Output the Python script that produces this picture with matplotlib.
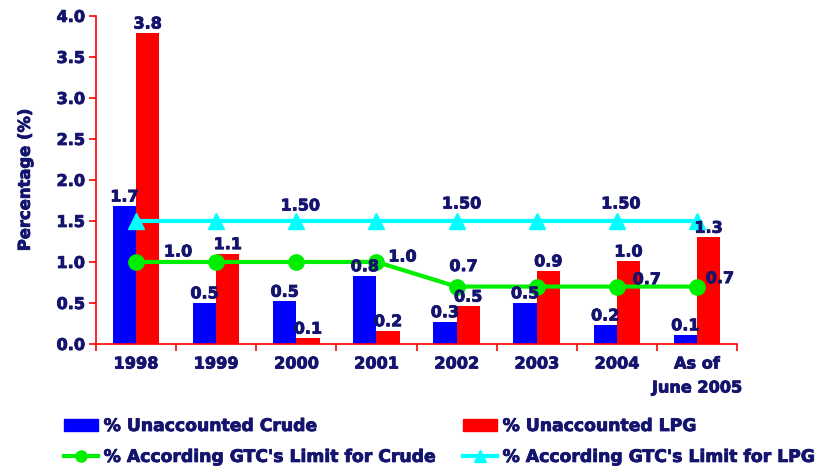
import matplotlib.pyplot as plt
import matplotlib.patheffects as pe
import numpy as np
from matplotlib.lines import Line2D
from matplotlib.patches import Patch

years = ['1998', '1999', '2000', '2001', '2002', '2003', '2004', 'As of\nJune 2005']
crude = [1.68, 0.50, 0.52, 0.83, 0.27, 0.50, 0.23, 0.11]
lpg = [3.79, 1.10, 0.07, 0.16, 0.46, 0.89, 1.01, 1.30]
limit_crude = [1.0, 1.0, 1.0, 1.0, 0.7, 0.7, 0.7, 0.7]
limit_lpg = [1.5, 1.5, 1.5, 1.5, 1.5, 1.5, 1.5, 1.5]

# which limit points get a label, and where (pixel offsets from the point)
crude_lbl = {0: (42, 10), 3: (26, 5), 4: (7, 20), 6: (30, 7), 7: (23, 8)}
lpg_lbl = {2: (4, 15), 4: (5, 17), 6: (4, 17)}

navy = '#14146e'
red = '#ff0000'
plt.rcParams['font.family'] = ['DejaVu Sans']
plt.rcParams['font.weight'] = 'bold'
heavy = [pe.withStroke(linewidth=0.6, foreground=navy)]

fig = plt.figure(figsize=(8.25, 4.68), dpi=100)
ax = fig.add_axes([0.1164, 0.265, 0.777, 0.701])

x = np.arange(len(years))
w = 0.29
ax.bar(x - w / 2, crude, w, color='#0000ff', zorder=2)
ax.bar(x + w / 2, lpg, w, color=red, zorder=2)
ax.plot(x, limit_lpg, color='#00ffff', lw=3, marker='^', ms=12, zorder=3)
ax.plot(x, limit_crude, color='#00ee00', lw=3, marker='o', ms=11, zorder=3)

fs = 11.5
for i in range(len(years)):
    ax.text(x[i] - w / 2, crude[i] + 0.02, '%.1f' % crude[i], ha='center', va='bottom',
            color=navy, fontsize=fs, fontweight='bold', zorder=4, path_effects=heavy)
    ax.text(x[i] + w / 2, lpg[i] + 0.02, '%.1f' % lpg[i], ha='center', va='bottom',
            color=navy, fontsize=fs, fontweight='bold', zorder=4, path_effects=heavy)
for i, off in crude_lbl.items():
    ax.annotate('%.1f' % limit_crude[i], (x[i], limit_crude[i]), xytext=off,
                textcoords='offset pixels', ha='center', va='center',
                color=navy, fontsize=fs, fontweight='bold', zorder=4, path_effects=heavy)
for i, off in lpg_lbl.items():
    ax.annotate('%.2f' % limit_lpg[i], (x[i], limit_lpg[i]), xytext=off,
                textcoords='offset pixels', ha='center', va='center',
                color=navy, fontsize=fs, fontweight='bold', zorder=4, path_effects=heavy)

ax.set_xlim(-0.5, len(years) - 0.5)
ax.set_ylim(0, 4.0)
ax.set_yticks(np.arange(0, 4.01, 0.5))
ax.set_yticklabels(['%.1f' % v for v in np.arange(0, 4.01, 0.5)])
ax.set_xticks(x)
ax.set_xticklabels(years, linespacing=1.75)
ax.set_xticks(np.arange(-0.5, len(years), 1.0), minor=True)
ax.tick_params(axis='x', which='major', length=0, pad=9, labelsize=11.6, labelcolor=navy)
ax.tick_params(axis='x', which='minor', length=5, width=1.2, color=red)
ax.tick_params(axis='y', length=5, width=1.2, pad=3, color=red, labelsize=11.6,
               labelcolor=navy)
for lab in ax.get_xticklabels() + ax.get_yticklabels():
    lab.set_fontweight('bold')
    lab.set_path_effects(heavy)

for s in ['top', 'right']:
    ax.spines[s].set_visible(False)
for s in ['left', 'bottom']:
    ax.spines[s].set_color(red)
    ax.spines[s].set_linewidth(1.2)

ax.set_ylabel('Percentage (%)', color=navy, fontsize=11.8, fontweight='bold', labelpad=17,
              path_effects=heavy)

handles = [Patch(color='#0000ff'),
           Line2D([], [], color='#00ee00', lw=3, marker='o', ms=8),
           Patch(color=red),
           Line2D([], [], color='#00ffff', lw=3, marker='^', ms=9)]
labels = ['% Unaccounted Crude', "% According GTC's Limit for Crude",
          '% Unaccounted LPG', "% According GTC's Limit for LPG"]
leg = fig.legend(handles, labels, loc='upper left', bbox_to_anchor=(64 / 825, 1 - 417 / 468),
                 ncol=2, frameon=False, labelcolor=navy, borderpad=0, borderaxespad=0,
                 handlelength=2.0, handleheight=0.75, handletextpad=0.3, columnspacing=1.5,
                 labelspacing=0.75, prop={'weight': 'bold', 'size': 12.4})
for t in leg.get_texts():
    t.set_path_effects(heavy)

fig.savefig('out.png', dpi=100)
